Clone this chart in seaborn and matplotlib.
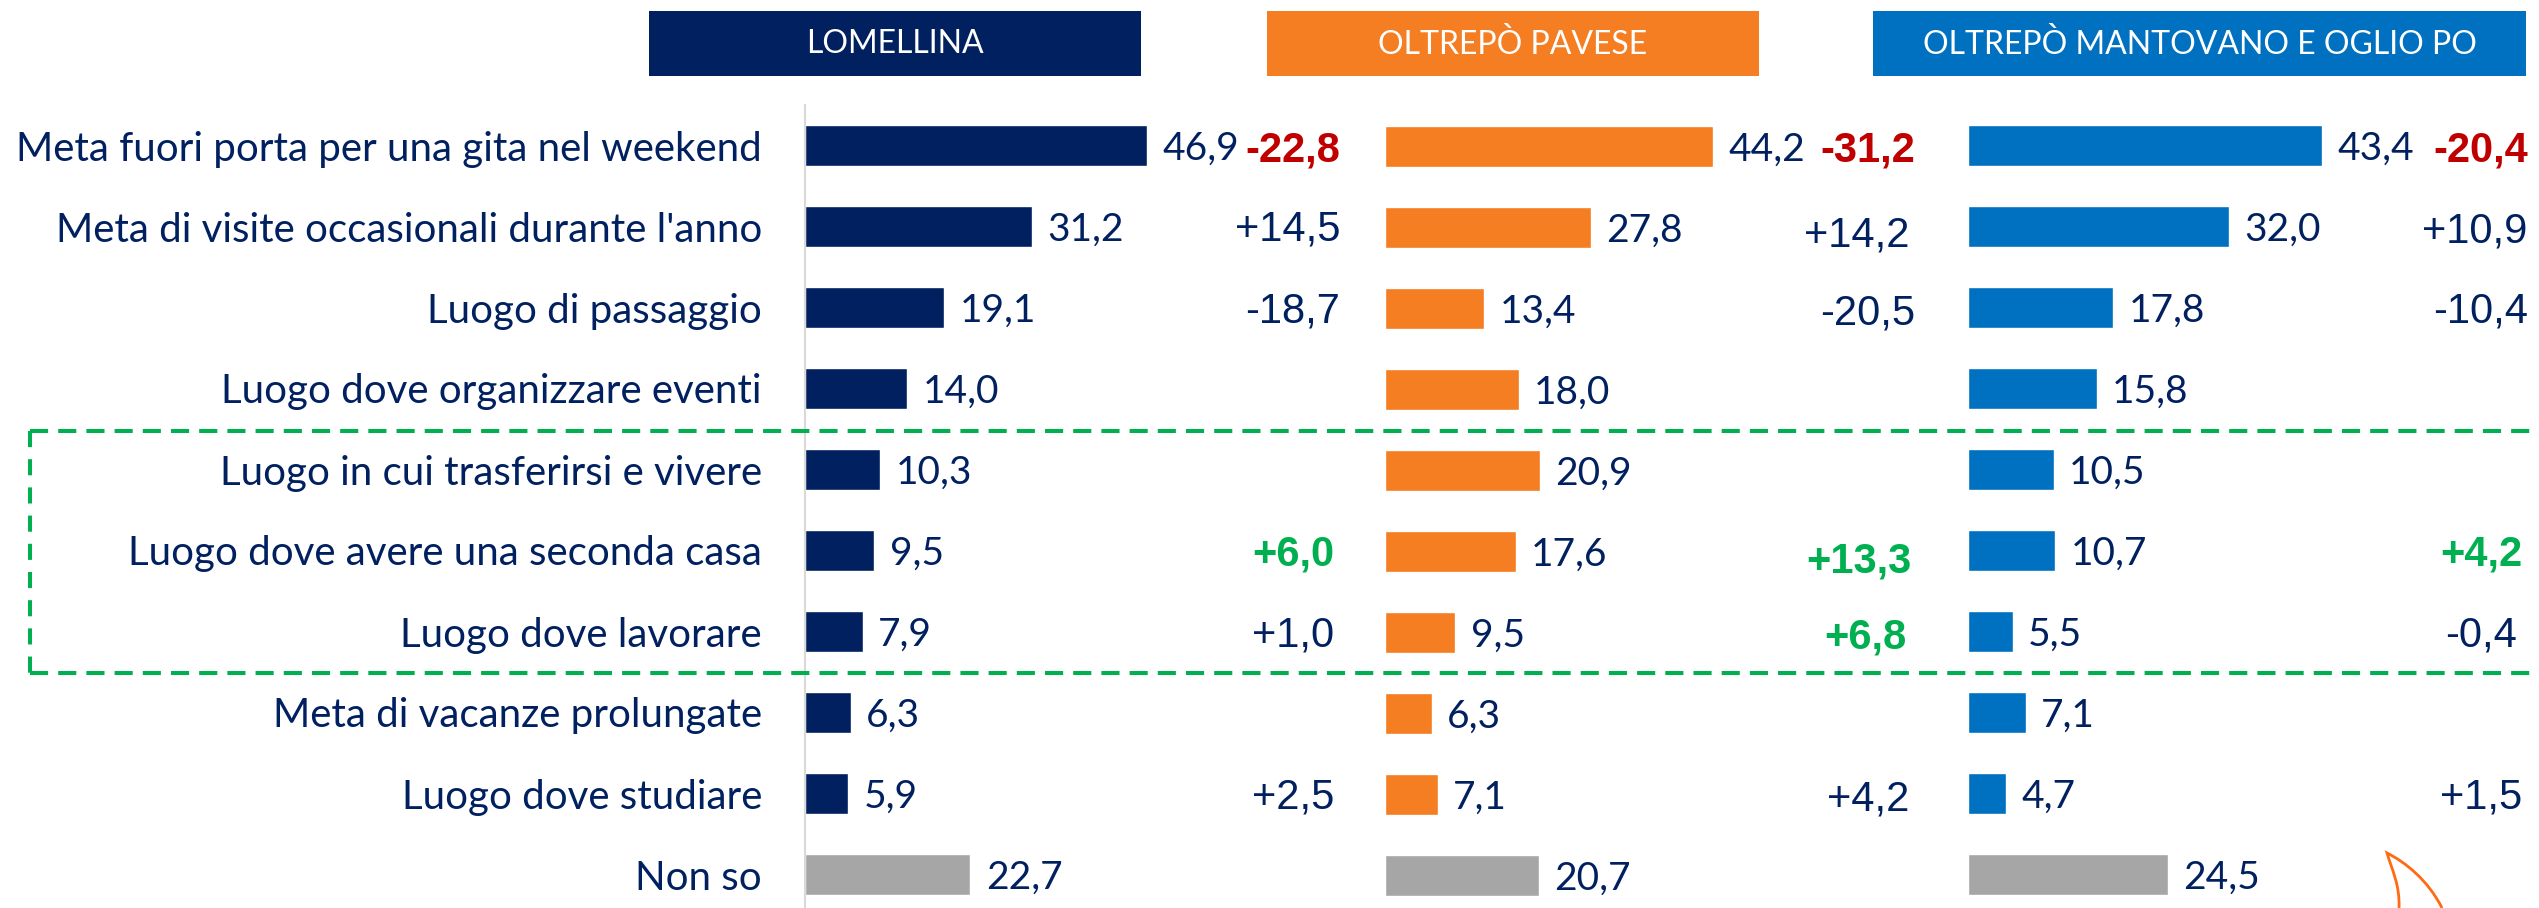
import matplotlib
matplotlib.use('Agg')
import matplotlib.pyplot as plt
from matplotlib.patches import PathPatch, Rectangle
from matplotlib.path import Path
import pandas as pd
import seaborn as sns

categories = [
    'Meta fuori porta per una gita nel weekend',
    "Meta di visite occasionali durante l'anno",
    'Luogo di passaggio',
    'Luogo dove organizzare eventi',
    'Luogo in cui trasferirsi e vivere',
    'Luogo dove avere una seconda casa',
    'Luogo dove lavorare',
    'Meta di vacanze prolungate',
    'Luogo dove studiare',
    'Non so',
]

lomellina = [46.9, 31.2, 19.1, 14.0, 10.3, 9.5, 7.9, 6.3, 5.9, 22.7]
oltrepo_pavese = [44.2, 27.8, 13.4, 18.0, 20.9, 17.6, 9.5, 6.3, 7.1, 20.7]
oltrepo_mantovano = [43.4, 32.0, 17.8, 15.8, 10.5, 10.7, 5.5, 7.1, 4.7, 24.5]

delta_lomellina = [-22.8, 14.5, -18.7, None, None, 6.0, 1.0, None, 2.5, None]
delta_pavese = [-31.2, 14.2, -20.5, None, None, 13.3, 6.8, None, 4.2, None]
delta_mantovano = [-20.4, 10.9, -10.4, None, None, 4.2, -0.4, None, 1.5, None]

highlight_lomellina = [-22.8, 6.0]
highlight_pavese = [-31.2, 13.3, 6.8]
highlight_mantovano = [-20.4, 4.2]

headers = ['LOMELLINA', 'OLTREPÒ PAVESE', 'OLTREPÒ MANTOVANO E OGLIO PO']

NAVY = '#002060'
ORANGE = '#F57D22'
BLUE = '#0070C0'
GREY = '#A6A6A6'
RED = '#C00000'
GREEN = '#00B050'
BODY_FONT = ['Lato', 'DejaVu Sans']
NARROW_FONT = ['Liberation Sans', 'DejaVu Sans']

W, H = 2539, 908
ROW0, ROW_STEP = 145.5, 81

# the delta text boxes are not quite aligned in the original (dx, dy in pixels)
DELTA_NUDGE = {14.5: (-5, -2), 14.2: (-11, 4), 13.3: (-9, 5), 10.9: (-6, 0), 6.8: (-3, 0)}


def fmt_value(v):
    return f'{v:.1f}'.replace('.', ',')


def fmt_delta(v):
    return f'{v:+.1f}'.replace('.', ',')


def draw_panel(ax_box, values, deltas, highlights, color, px_per_unit, delta_x, show_labels=False):
    left, right, shift = ax_box
    ax = fig.add_axes([left / W, 0, (right - left) / W, (H - 105 - shift) / H])
    df = pd.DataFrame({'cat': categories, 'val': values})
    palette = [color] * 9 + [GREY]
    sns.barplot(data=df, x='val', y='cat', hue='cat', palette=palette, legend=False,
                saturation=1, width=0.5, ax=ax)
    ax.set_xlim(0, (right - left) / px_per_unit)
    ax.set_ylim((H - ROW0 - shift) / ROW_STEP, (105 - ROW0) / ROW_STEP)
    ax.set_xlabel('')
    ax.set_ylabel('')
    ax.set_xticks([])
    ax.patch.set_alpha(0)
    for side in ['top', 'right', 'bottom', 'left']:
        ax.spines[side].set_visible(False)

    if show_labels:
        ax.spines['left'].set_visible(True)
        ax.spines['left'].set_color('#D9D9D9')
        ax.spines['left'].set_linewidth(1.5)
        ax.tick_params(axis='y', length=0, pad=31, labelcolor=NAVY, labelsize=29)
        for lab in ax.get_yticklabels():
            lab.set_family(BODY_FONT)
    else:
        ax.tick_params(axis='y', length=0, labelleft=False)

    for container, v in zip(ax.containers, values):
        for t in ax.bar_label(container, labels=[fmt_value(v)], padding=11, color=NAVY,
                              fontsize=28, family=BODY_FONT):
            t.xyann = (t.xyann[0], t.xyann[1] - 2)

    for i, d in enumerate(deltas):
        if d is None:
            continue
        c = NAVY
        weight = 'normal'
        if d in highlights:
            c = RED if d < 0 else GREEN
            weight = 'bold'
        dx, dy = DELTA_NUDGE.get(d, (0, 0))
        ax.text((delta_x + dx - left) / px_per_unit, i + dy / ROW_STEP, fmt_delta(d), color=c,
                fontweight=weight, fontsize=30, family=NARROW_FONT, ha='center',
                va='center_baseline')


sns.set_theme(style='white')
fig = plt.figure(figsize=(W / 100, H / 100), dpi=100, facecolor='white')

draw_panel((805, 1385, 0), lomellina, delta_lomellina, highlight_lomellina, NAVY, 7.29, 1293, True)
draw_panel((1385, 1968, 1), oltrepo_pavese, delta_pavese, highlight_pavese, ORANGE, 7.42, 1868)
draw_panel((1968, 2539, 0), oltrepo_mantovano, delta_mantovano, highlight_mantovano, BLUE, 8.15, 2481)

# overlay in image pixels for the headers, the dashed box and the cut off shape
over = fig.add_axes([0, 0, 1, 1])
over.set_xlim(0, W)
over.set_ylim(H, 0)
over.axis('off')
over.patch.set_alpha(0)

header_boxes = [(649, 1141, NAVY), (1267, 1759, ORANGE), (1873, 2526, BLUE)]
for text, (x0, x1, c) in zip(headers, header_boxes):
    over.add_patch(Rectangle((x0, 11), x1 - x0, 65, color=c, lw=0))
    over.text((x0 + x1) / 2, 44, text, color='white', fontsize=23, family=BODY_FONT,
              ha='center', va='center')

dash_h = (0, (4.5, 2.5))
dash_v = (0, (4, 3))
over.plot([30, W], [431, 431], color=GREEN, lw=2.9, ls=dash_h, dash_capstyle='butt')
over.plot([30, W], [673, 673], color=GREEN, lw=2.9, ls=dash_h, dash_capstyle='butt')
over.plot([30, 30], [431, 673], color=GREEN, lw=2.9, ls=dash_v, dash_capstyle='butt')

shape = Path([(2399, 908), (2400, 885), (2392, 870), (2387, 853),
              (2405, 862), (2428, 880), (2442, 908)],
             [Path.MOVETO, Path.CURVE4, Path.CURVE4, Path.CURVE4,
              Path.CURVE4, Path.CURVE4, Path.CURVE4])
over.add_patch(PathPatch(shape, fill=False, edgecolor='#FF6A13', lw=2))

fig.savefig('out.png', dpi=100)
